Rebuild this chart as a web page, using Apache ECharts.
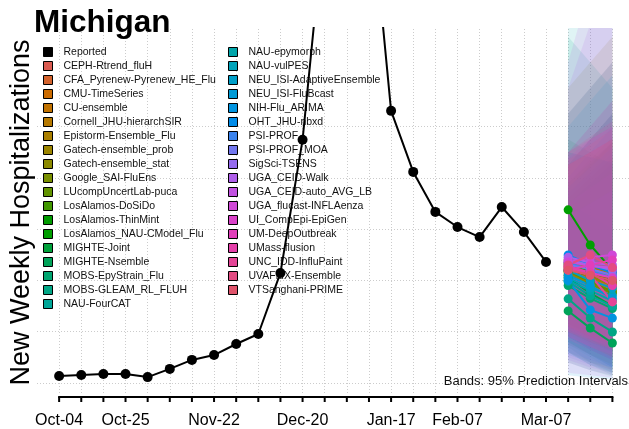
<!DOCTYPE html>
<html><head><meta charset="utf-8">
<script src="https://cdn.jsdelivr.net/npm/echarts@6/dist/echarts.min.js"></script>
<style>html,body{margin:0;padding:0;background:#fff}#c{width:629px;height:429px}</style>
</head><body><div id="c"></div>
<script>
// ---------- data ----------
const weekLabels = ['Oct-04','Oct-11','Oct-18','Oct-25','Nov-01','Nov-08','Nov-15','Nov-22','Nov-29','Dec-06','Dec-13','Dec-20','Dec-27','Jan-03','Jan-10','Jan-17','Jan-24','Jan-31','Feb-07','Feb-14','Feb-21','Feb-28','Mar-07','Mar-14','Mar-21','Mar-28'];
const tickLabels = ['Oct-04','Oct-25','Nov-22','Dec-20','Jan-17','Feb-07','Mar-07'];
const reportedWeeks = weekLabels.slice(0, 23);
const reported = [27,31,35,35,23,55,90,109,152,191,429,948,1820,2150,1962,1061,823,667,608,569,686,589,472];
const forecastWeeks = ['Mar-14','Mar-21','Mar-28'];
const models = ['CEPH-Rtrend_fluH','CFA_Pyrenew-Pyrenew_HE_Flu','CMU-TimeSeries','CU-ensemble','Cornell_JHU-hierarchSIR','Epistorm-Ensemble_Flu','Gatech-ensemble_prob','Gatech-ensemble_stat','Google_SAI-FluEns','LUcompUncertLab-puca','LosAlamos-DoSiDo','LosAlamos-ThinMint','LosAlamos_NAU-CModel_Flu','MIGHTE-Joint','MIGHTE-Nsemble','MOBS-EpyStrain_Flu','MOBS-GLEAM_RL_FLUH','NAU-FourCAT','NAU-epymorph','NAU-vulPES','NEU_ISI-AdaptiveEnsemble','NEU_ISI-FluBcast','NIH-Flu_ARIMA','OHT_JHU-nbxd','PSI-PROF','PSI-PROF_MOA','SigSci-TSENS','UGA_CEID-Walk','UGA_CEID-auto_AVG_LB','UGA_flucast-INFLAenza','UI_CompEpi-EpiGen','UM-DeepOutbreak','UMass-flusion','UNC_IDD-InfluPaint','UVAFluX-Ensemble','VTSanghani-PRIME'];
const medianH1 = [470,455,440,460,480,450,430,445,420,435,465,440,675,410,281,380,328,395,400,410,440,420,400,499,470,460,480,490,475,470,450,440,455,445,460,440];
const medianH2 = [440,420,400,430,450,410,390,415,385,395,435,420,538,350,214,330,253,340,360,370,400,380,285,460,440,445,460,470,455,490,430,460,430,421,499,420];
const medianH3 = [420,390,370,400,430,380,360,385,350,355,410,400,441,300,156,290,199,300,320,340,370,330,253,430,410,420,440,460,450,499,410,480,380,316,450,400];
const lowerH1 = [200,220,150,230,250,200,120,190,220,160,230,180,400,160,80,120,140,120,150,160,200,180,30,110,120,100,90,80,40,180,170,200,210,180,220,200];
const lowerH2 = [160,170,110,190,200,150,80,140,170,110,180,130,300,110,50,70,80,70,100,110,160,130,20,80,90,70,60,50,30,140,130,170,170,140,180,160];
const lowerH3 = [120,120,70,150,160,100,50,100,120,70,140,90,200,60,25,40,40,30,50,60,120,90,15,60,60,50,40,30,20,110,90,140,130,100,150,130];
const upperH1 = [900,720,1050,700,680,760,1150,780,650,850,720,850,950,780,700,900,1350,900,1500,1000,740,800,1050,760,650,700,850,1150,1250,900,880,900,850,900,870,850];
const upperH2 = [1000,800,1150,780,760,850,1250,870,720,950,800,950,900,860,650,880,1250,880,1450,1100,820,900,1150,840,700,760,950,1400,1550,1000,950,950,900,960,930,900];
const upperH3 = [1100,880,1250,860,840,940,1350,960,800,1050,880,1050,850,940,600,860,1150,860,1400,1200,900,1000,1250,920,750,820,1050,1700,1900,1100,1000,1000,950,1020,990,950];
const gridValues = [0,200,400,600,800,1000];

// ---------- helpers ----------
function hcl(h, c, l) {
  const Xn = 95.047, Yn = 100, Zn = 108.883;
  const den = Xn + 15 * Yn + 3 * Zn;
  const un = 4 * Xn / den, vn = 9 * Yn / den;
  const hr = h * Math.PI / 180;
  const U = c * Math.cos(hr), V = c * Math.sin(hr);
  const Y = Yn * (l > 8 ? Math.pow((l + 16) / 116, 3) : l / 903.3);
  const u = U / (13 * l) + un, v = V / (13 * l) + vn;
  const X = 9 * Y * u / (4 * v), Z = -X / 3 - 5 * Y + 3 * Y / v;
  const lin = [3.240479 * X - 1.537150 * Y - 0.498535 * Z,
               -0.969256 * X + 1.875992 * Y + 0.041556 * Z,
               0.055648 * X - 0.204043 * Y + 1.057311 * Z].map(t => t / 100);
  const g = t => { t = t <= 0.0031308 ? 12.92 * t : 1.055 * Math.pow(t, 1 / 2.4) - 0.055; return Math.round(255 * Math.min(1, Math.max(0, t))); };
  return lin.map(g);
}
const colors = models.map((m, i) => hcl(15 + 360 * i / models.length, 100, 55));
const rgb = c => 'rgb(' + c.join(',') + ')';
const rgba = (c, a) => 'rgba(' + c.join(',') + ',' + a + ')';

const X_MIN = -1, X_MAX = 25.75, Y_MIN = -54.6, Y_MAX = 1384, Y_GRID_LOW = -39;
const wk = w => weekLabels.indexOf(w);
const FONT = "'Liberation Sans', Arial, Helvetica, sans-serif";

const series = [];
// gridlines
series.push({
  type: 'line', name: '_grid', data: [], z: 1, silent: true,
  markLine: {
    silent: true, symbol: ['none', 'none'], animation: false, z: 1,
    label: { show: false },
    lineStyle: { color: '#cccccc', type: [1, 2], width: 1 },
    data: gridValues.map(v => ({ yAxis: v }))
      .concat(weekLabels.map(w => [{ coord: [wk(w), Y_GRID_LOW] }, { coord: [wk(w), Y_MAX] }]))
  }
});
// x axis line and ticks (R style: from first to last week)
series.push({
  type: 'custom', name: '_xaxis', clip: false, z: 6, silent: true,
  data: weekLabels.map(w => [wk(w)]),
  renderItem: function (params, api) {
    const w = api.value(0);
    const p = api.coord([w, Y_MIN]);
    const children = [{ type: 'line', shape: { x1: p[0], y1: p[1], x2: p[0], y2: p[1] + 5 }, style: { stroke: '#000', lineWidth: 2 } }];
    if (params.dataIndex === 0) {
      const q = api.coord([wk(weekLabels[weekLabels.length - 1]), Y_MIN]);
      children.push({ type: 'line', shape: { x1: p[0] - 1, y1: p[1], x2: q[0] + 1, y2: q[1] }, style: { stroke: '#000', lineWidth: 2 } });
    }
    return { type: 'group', children: children };
  }
});
// bands
const fIdx = forecastWeeks.map(wk);
series.push({
  type: 'custom', name: '_bands', clip: true, z: 2, silent: true,
  data: models.map((m, i) => [i]),
  renderItem: function (params, api) {
    const i = api.value(0);
    const pts = [[fIdx[0], lowerH1[i]], [fIdx[1], lowerH2[i]], [fIdx[2], lowerH3[i]],
                 [fIdx[2], upperH3[i]], [fIdx[1], upperH2[i]], [fIdx[0], upperH1[i]]].map(p => api.coord(p));
    return { type: 'polygon', shape: { points: pts }, style: { fill: rgba(colors[i], 0.12), stroke: null } };
  }
});
// medians
models.forEach((m, i) => {
  series.push({
    type: 'line', name: m, z: 3, clip: true,
    data: [[fIdx[0], medianH1[i]], [fIdx[1], medianH2[i]], [fIdx[2], medianH3[i]]],
    symbol: 'circle', symbolSize: 9, showSymbol: true,
    itemStyle: { color: rgb(colors[i]), borderWidth: 0 },
    lineStyle: { color: rgb(colors[i]), width: 2 }
  });
});
// reported
series.push({
  type: 'line', name: 'Reported', z: 4, clip: true,
  data: reportedWeeks.map((w, k) => [wk(w), reported[k]]),
  symbol: 'circle', symbolSize: 10,
  itemStyle: { color: '#000', borderWidth: 0 },
  lineStyle: { color: '#000', width: 2 }
});

const legendCommon = {
  orient: 'vertical', top: 45, icon: 'rect', itemWidth: 9, itemHeight: 9, itemGap: 0, padding: 0,
  selectedMode: false, height: 320,
  itemStyle: { borderColor: '#000', borderWidth: 1 },
  textStyle: { fontSize: 10.5, lineHeight: 14, color: '#111', fontFamily: FONT, padding: [0, 0, 0, 6] }
};

const chart = echarts.init(document.getElementById('c'), null, { renderer: 'canvas' });
chart.setOption({
  animation: false,
  backgroundColor: '#fff',
  textStyle: { fontFamily: FONT },
  title: [
    { text: 'Michigan', left: 34, top: 7, padding: 0, textStyle: { fontSize: 31.5, fontWeight: 'bold', color: '#000', fontFamily: FONT } },
    { text: 'Bands: 95% Prediction Intervals', right: 1, top: 375, padding: 0, textStyle: { fontSize: 13, fontWeight: 'normal', color: '#111', fontFamily: FONT } }
  ],
  grid: { left: 34, right: 0, top: 28, bottom: 32, containLabel: false },
  legend: [
    Object.assign({}, legendCommon, { left: 43, data: ['Reported'].concat(models.slice(0, 18)) }),
    Object.assign({}, legendCommon, { left: 228, data: models.slice(18) })
  ],
  xAxis: {
    type: 'value', min: X_MIN, max: X_MAX,
    axisLine: { show: false },
    axisTick: { show: false },
    axisLabel: { show: true, customValues: tickLabels.map(wk), formatter: v => weekLabels[Math.round(v)] || '', fontSize: 16, color: '#000', margin: 16, fontFamily: FONT },
    splitLine: { show: false }
  },
  yAxis: {
    type: 'value', min: Y_MIN, max: Y_MAX,
    name: 'New Weekly Hospitalizations', nameLocation: 'middle', nameRotate: 90, nameGap: 2,
    nameTextStyle: { fontSize: 27, color: '#000', fontFamily: FONT },
    axisLine: { show: false }, axisTick: { show: false }, axisLabel: { show: false }, splitLine: { show: false }
  },
  series: series
});
</script>
</body></html>
